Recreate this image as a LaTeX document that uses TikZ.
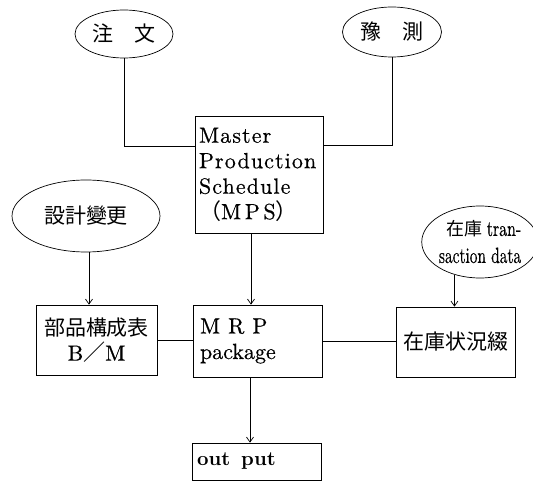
\documentclass[tikz,border=0pt]{standalone}
\usepackage{fontspec}
\usepackage{graphicx}
\usetikzlibrary{shapes.geometric,arrows.meta}
\setmainfont{lmroman10-regular.otf}[FakeBold=0.5, BoldFont=lmroman10-bold.otf, BoldFeatures={FakeBold=0}, ItalicFont=lmroman10-italic.otf]
\newfontfamily\cjk{Noto Sans CJK JP}
\newcommand\lfont{\fontsize{22}{25.5}\selectfont}
\newcommand\cfont{\cjk\fontsize{21}{25}\selectfont}
\tikzset{
  oval/.style={draw, ellipse, inner sep=0pt, line width=0.7pt},
  box/.style={draw, rectangle, inner sep=0pt, line width=0.7pt},
  conn/.style={line width=0.7pt},
  arr/.style={conn, -{Straight Barb[length=5pt,width=7pt]}},
}
\begin{document}
\begin{tikzpicture}[x=1pt,y=-1pt]
\useasboundingbox (0,0) rectangle (533,481);
% ellipses
\node[oval, minimum width=98pt, minimum height=48pt] (chumon) at (124,34) {\cfont 注\hspace{22pt}文};
\node[oval, minimum width=99pt, minimum height=50pt] (yosoku) at (392,32) {\cfont 豫\hspace{22pt}測};
\node[oval, minimum width=148pt, minimum height=72pt] (sekkei) at (86,216) {\cfont 設計變更};
\node[oval, minimum width=92pt, minimum height=72pt, align=center, font=\fontsize{22}{27}\selectfont] (trans) at (480,242)
  {\hspace*{8pt}{\cjk\fontsize{18}{18}\selectfont 在庫}\hspace{4pt}\scalebox{0.72}[1]{tran-}\\\scalebox{0.7}[1]{saction data}};
% boxes
\node[box, minimum width=128pt, minimum height=117pt, inner xsep=4pt, text width=120pt, align=left,
  font={\lfont\addfontfeatures{LetterSpace=5}}] (mps) at (259,174.5)
  {Master\\Production\\Schedule\\{\cjk （}M\,P\,S{\cjk ）}};
\node[box, minimum width=129pt, minimum height=72pt, inner xsep=7pt, text width=115pt, align=left, font=\lfont] (mrp) at (257.5,341)
  {M\hspace{8pt}R\hspace{8pt}P\\package};
\node[box, minimum width=121pt, minimum height=70pt, align=center, font=\lfont] (buhin) at (96.5,340)
  {{\cfont 部品構成表}\\B{\cjk ／}M};
\node[box, minimum width=119pt, minimum height=70pt] (zaiko) at (456,342) {\cfont 在庫状況綴};
\node[box, minimum width=129pt, minimum height=37pt, inner xsep=5pt, text width=119pt, align=left,
  font={\fontsize{20}{24}\selectfont\bfseries}] (output) at (256.5,461.5) {out\hspace{11pt}put};
% connectors
\draw[conn] (chumon.south) |- ([yshift=28.5pt]mps.west);
\draw[conn] (yosoku.south) |- ([yshift=29.5pt]mps.east);
\draw[arr] ([xshift=-8pt]mps.south) -- ([xshift=-8pt]mps.south |- mrp.north);
\draw[arr] ([xshift=3pt]sekkei.south) -- ([xshift=3pt]sekkei.south |- buhin.north);
\draw[arr] (trans.232) -- (trans.232 |- zaiko.north);
\draw[conn] (buhin.east) -- (buhin.east -| mrp.west);
\draw[conn] (mrp.east) -- (mrp.east -| zaiko.west);
\draw[arr] ([xshift=-7.5pt]mrp.south) -- ([xshift=-7.5pt]mrp.south |- output.north);
\end{tikzpicture}
\end{document}
